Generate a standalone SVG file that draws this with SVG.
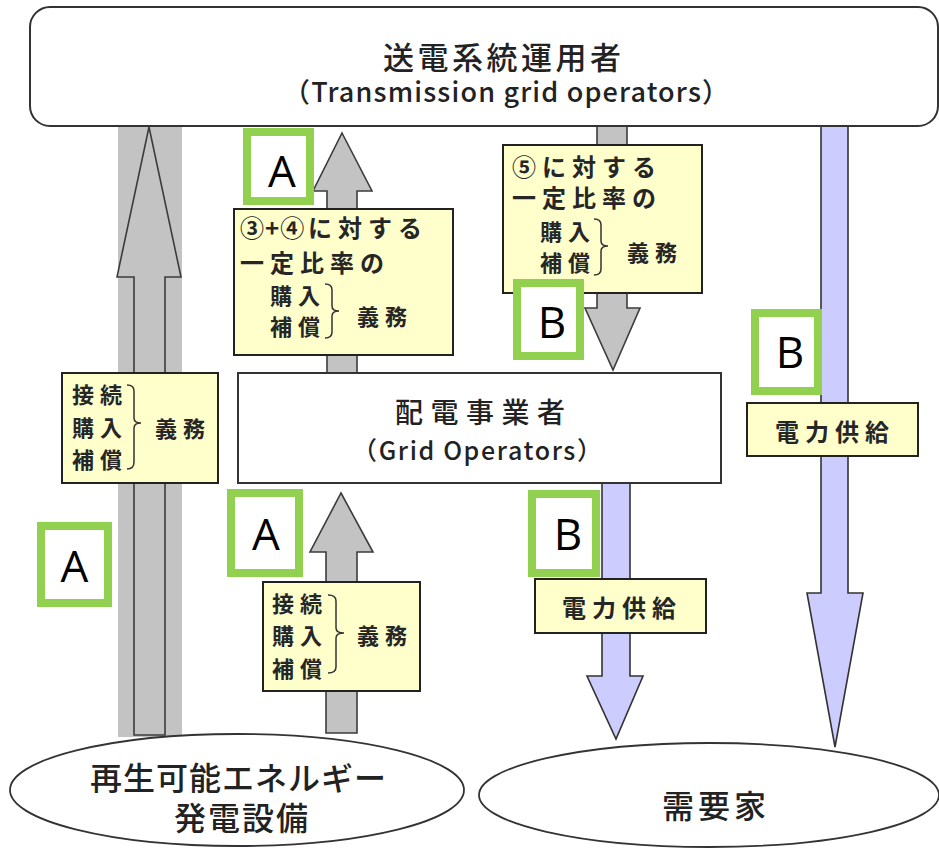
<svg xmlns="http://www.w3.org/2000/svg" width="939" height="848" viewBox="0 0 939 848">
<style>
.node{fill:#fff;stroke:#333;stroke-width:2}
.ell{fill:#fff;stroke:#333;stroke-width:1.8}
.gray{fill:#c3c3c3;stroke:#3c3c3c;stroke-width:1.6}
.blue{fill:#ccccff;stroke:#333;stroke-width:1.6}
.ybox{fill:#ffffcc;stroke:#222;stroke-width:2}
.gbox{fill:#fff;stroke:#92d050;stroke-width:8}
.gl{font-family:"Open Sans","Liberation Sans",sans-serif;font-size:44px;fill:#000;text-anchor:middle}
.h{font-family:"Noto Sans CJK JP","Noto Sans",sans-serif;font-weight:500;fill:#222}
.b{font-family:"Noto Sans CJK JP",sans-serif;font-weight:bold;fill:#262626;font-size:24px;letter-spacing:6px}
.s{font-size:22px;letter-spacing:6px}
.br{fill:none;stroke:#333;stroke-width:1.5}
</style>
<rect width="939" height="848" fill="#fff"/>
<g id="connectors">
  <rect x="118" y="126" width="64" height="611" fill="#c3c3c3"/>
  <polygon class="gray" points="149,127 181,277 165,277 165,735 134,735 134,277 117,277"/>
  <polygon class="gray" points="342,133 372,191 357,191 357,373 327,373 327,191 313,191"/>
  <polygon class="gray" points="597,126 627,126 627,308 640,308 613,370 585,308 597,308"/>
  <polygon class="blue" points="821,126 848,126 848,593 863,593 835,747 807,593 821,593"/>
  <polygon class="blue" points="602,483 630,483 630,676 643,676 616,739 587,676 602,676"/>
  <polygon class="gray" points="341,493 373,552 357,552 357,733 326,733 326,552 310,552"/>
</g>
<g id="tso">
  <rect class="node" x="30" y="7" width="908" height="119" rx="20"/>
  <text class="h" x="383" y="69" font-size="31" textLength="238" lengthAdjust="spacing">送電系統運用者</text>
  <text class="h" x="283" y="102" font-size="27" textLength="446" lengthAdjust="spacing">（Transmission grid operators）</text>
</g>
<g id="grid">
  <rect class="node" x="238" y="373" width="483" height="110"/>
  <text class="h" x="395" y="423" font-size="28" textLength="170" lengthAdjust="spacing">配電事業者</text>
  <text class="h" x="352" y="460" font-size="25" textLength="250" lengthAdjust="spacing">（Grid Operators）</text>
</g>
<g id="generator">
  <ellipse class="ell" cx="237" cy="790" rx="227" ry="56"/>
  <text class="h" x="90" y="790" font-size="32" textLength="296" lengthAdjust="spacing">再生可能エネルギー</text>
  <text class="h" x="174" y="830" font-size="32" textLength="134" lengthAdjust="spacing">発電設備</text>
</g>
<g id="consumer">
  <ellipse class="ell" cx="709" cy="795" rx="230" ry="52"/>
  <text class="h" x="662" y="818" font-size="32" textLength="104" lengthAdjust="spacing">需要家</text>
</g>
<g id="label-left">
  <rect class="ybox" x="62" y="373" width="156" height="110"/>
  <text class="b s" x="72" y="403">接続</text>
  <text class="b s" x="72" y="436">購入</text>
  <text class="b s" x="72" y="468">補償</text>
  <path class="br" d="M127,385 Q134,385 134,391 L134,418 Q134,423 141,423 Q134,423 134,428 L134,462 Q134,469 127,469"/>
  <text class="b s" x="155" y="437">義務</text>
</g>
<g id="label-34">
  <rect class="ybox" x="234" y="209" width="219" height="146"/>
  <text class="b" x="240" y="237"><tspan letter-spacing="1">③+④</tspan><tspan x="308">に対する</tspan></text>
  <text class="b" x="240" y="272">一定比率の</text>
  <text class="b s" x="270" y="304">購入</text>
  <text class="b s" x="270" y="335">補償</text>
  <path class="br" d="M325,284 Q332,284 332,290 L332,306 Q332,311 339,311 Q332,311 332,316 L332,332 Q332,338 325,338"/>
  <text class="b s" x="357" y="325">義務</text>
</g>
<g id="label-5">
  <rect class="ybox" x="503" y="145" width="199" height="148"/>
  <text class="b" x="512" y="176">⑤に対する</text>
  <text class="b" x="512" y="207">一定比率の</text>
  <text class="b s" x="540" y="240">購入</text>
  <text class="b s" x="540" y="271">補償</text>
  <path class="br" d="M594,219 Q601,219 601,225 L601,241 Q601,246 608,246 Q601,246 601,251 L601,269 Q601,275 594,275"/>
  <text class="b s" x="627" y="261">義務</text>
</g>
<g id="label-bottom">
  <rect class="ybox" x="263" y="582" width="157" height="109"/>
  <text class="b s" x="272" y="612">接続</text>
  <text class="b s" x="272" y="644">購入</text>
  <text class="b s" x="272" y="677">補償</text>
  <path class="br" d="M328,595 Q336,595 336,601 L336,628 Q336,633 344,633 Q336,633 336,638 L336,667 Q336,673 328,673"/>
  <text class="b s" x="357" y="644">義務</text>
</g>
<g id="supply-mid">
  <rect class="ybox" x="535" y="579" width="171" height="54"/>
  <text class="b" x="562" y="617" font-size="23">電力供給</text>
</g>
<g id="supply-right">
  <rect class="ybox" x="747" y="403" width="171" height="53"/>
  <text class="b" x="775" y="441" font-size="23">電力供給</text>
</g>
<g id="tag-a1"><rect class="gbox" x="41" y="526" width="67" height="77"/><text class="gl" x="74.5" y="582">A</text></g>
<g id="tag-a2"><rect class="gbox" x="247" y="132" width="63" height="69"/><text class="gl" x="282" y="187">A</text></g>
<g id="tag-a3"><rect class="gbox" x="231" y="493" width="68" height="80"/><text class="gl" x="266" y="550">A</text></g>
<g id="tag-b1"><rect class="gbox" x="517" y="283" width="63" height="73"/><text class="gl" x="552" y="338">B</text></g>
<g id="tag-b2"><rect class="gbox" x="755" y="313" width="63" height="78"/><text class="gl" x="790" y="368">B</text></g>
<g id="tag-b3"><rect class="gbox" x="532" y="494" width="64" height="79"/><text class="gl" x="568" y="550">B</text></g>
</svg>
